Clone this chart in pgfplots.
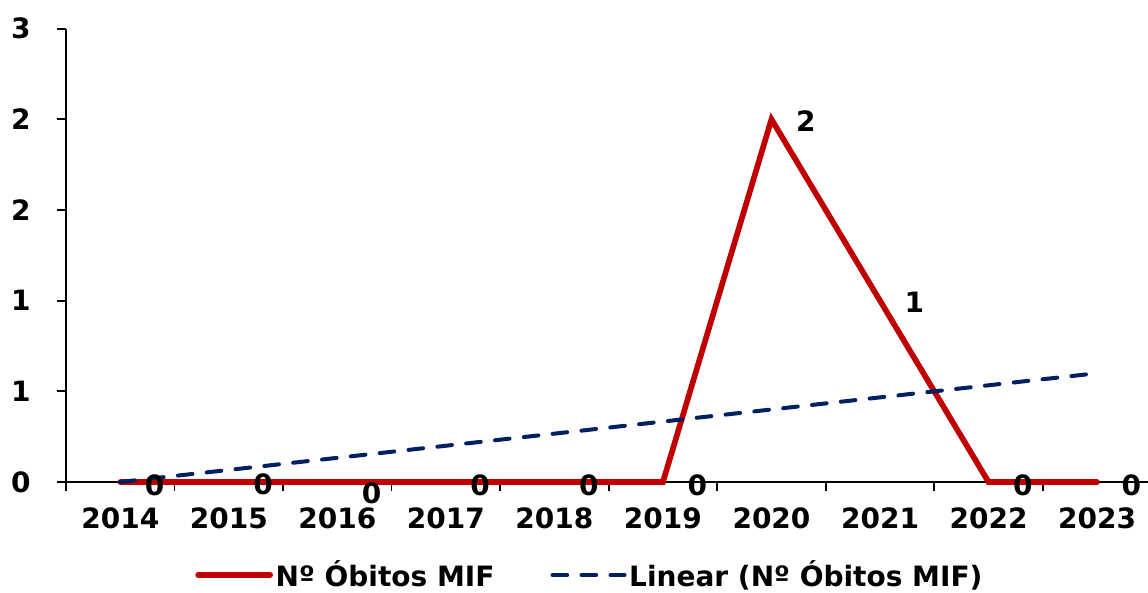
\documentclass[border=0pt]{standalone}
\usepackage{fontspec}
\setmainfont{DejaVu Sans}
\usepackage{pgfplots}
\pgfplotsset{compat=1.18}
\usepackage{pgfplotstable}
\definecolor{myred}{RGB}{192,0,0}
\definecolor{mynavy}{RGB}{0,32,96}

\pgfplotstableread{
x y dy
1 0 -2.5
2 0 -1.5
3 0 -8.5
4 0 -2.5
5 0 -2.5
6 0 -2.5
7 2 -1.5
8 1 -1.5
9 0 -2.5
10 0 -2.5
}\obitos

\pgfplotstableread{
x y
1 0
10 0.6
}\trend

\begin{document}
\begin{tikzpicture}
\begin{axis}[
  name=ax,
  scale only axis, width=814pt, height=340pt,
  xmin=0.5, xmax=10.5, ymin=0, ymax=2.5,
  axis lines=left,
  axis line style={-, line width=1.3pt, black},
  xtick={1,2,3,4,5,6,7,8,9,10},
  xticklabels={2014,2015,2016,2017,2018,2019,2020,2021,2022,2023},
  major x tick style={draw=none},
  minor xtick={0.5,1.5,2.5,3.5,4.5,5.5,6.5,7.5,8.5,9.5,10.5},
  minor tick length=7pt,
  ytick={0,0.5,1,1.5,2,2.5},
  yticklabels={0,1,1,2,2,3},
  tick align=outside,
  major tick length=7pt,
  tick style={black, line width=1.3pt},
  font=\fontsize{21}{25}\selectfont\bfseries,
  yticklabel style={xshift=-16pt},
  xticklabel style={yshift=-9pt},
  /pgf/number format/assume math mode=true,
  clip=false,
  legend style={draw=none, fill=none, at={(0.483,-0.205)}, anchor=center,
    font=\fontsize{21}{25}\selectfont\bfseries,
    /tikz/every even column/.append style={column sep=40pt}},
  legend columns=2,
  legend image code/.code={\draw[#1, dash phase=0pt] (0pt,0pt) -- (54pt,0pt);},
]
\addplot[myred, line width=4.25pt, line cap=round,
  nodes near coords, point meta=explicit,
  visualization depends on={\thisrow{dy} \as \dy},
  every node near coord/.append style={anchor=west, xshift=13pt, yshift=\dy pt, black,
     font=\fontsize{21}{25}\selectfont\bfseries}]
  table[x=x, y=y, meta=y] {\obitos};
\addlegendentry{Nº Óbitos MIF}
\addplot[mynavy, line width=3pt, line cap=round, dash pattern=on 11pt off 10.75pt]
  table[x=x, y=y] {\trend};
\addlegendentry{Linear (Nº Óbitos MIF)}
\end{axis}
\pgfresetboundingbox
\path[use as bounding box] ([xshift=-49.5pt,yshift=-82.5pt]ax.south west) rectangle ++(861pt,444pt);
\end{tikzpicture}
\end{document}
